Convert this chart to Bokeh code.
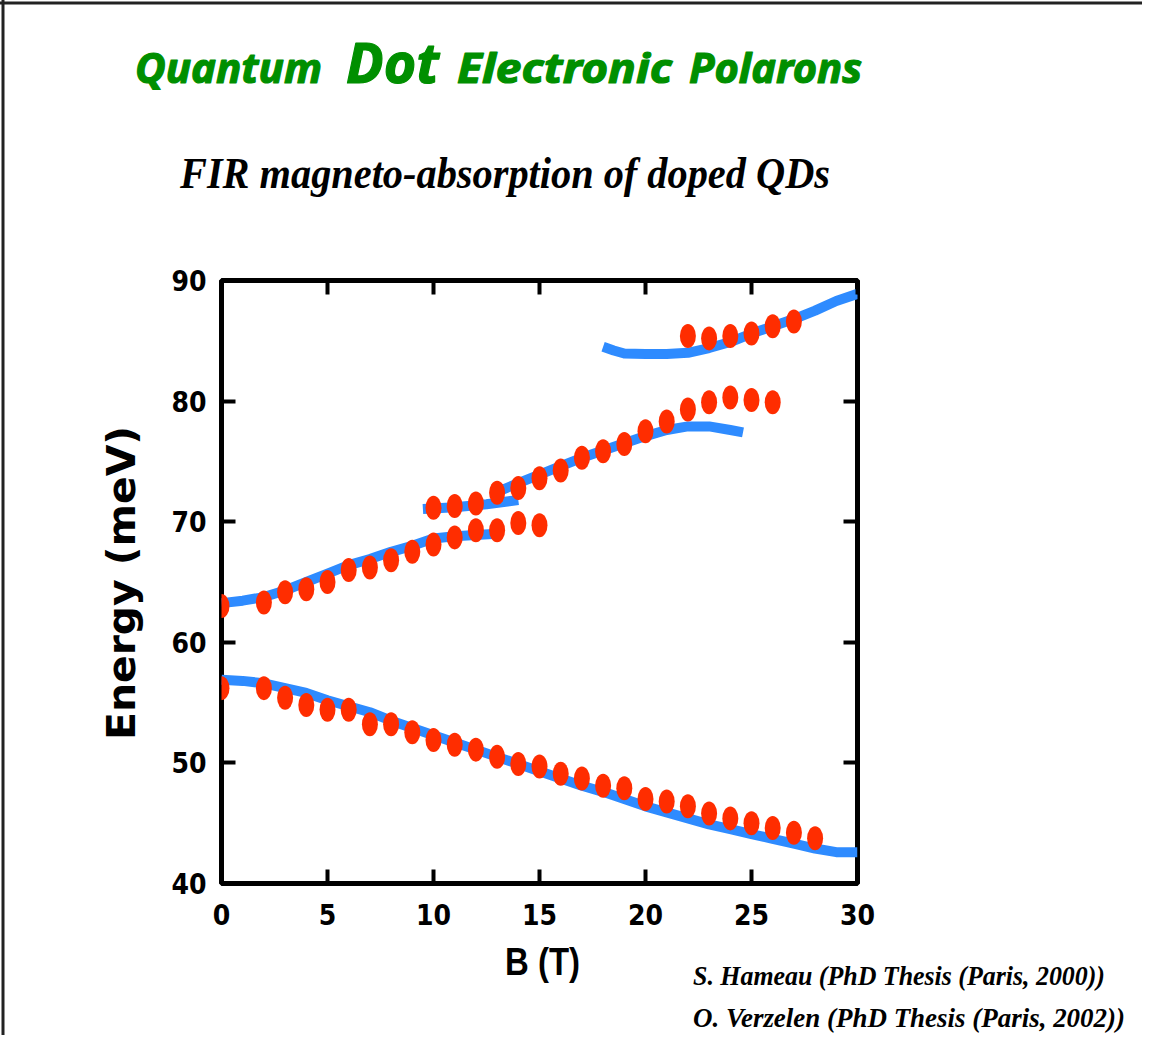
from bokeh.plotting import figure
from bokeh.models import Range1d, LinearAxis, FixedTicker, Div
from bokeh.layouts import column
from bokeh.embed import file_html
from bokeh.resources import INLINE

# ---------------- data ----------------
# theory curves (blue)
curve_low_B = [0, 1, 2, 3, 4, 5, 6, 7, 8, 9, 10, 11, 12, 13, 14, 15, 16, 17, 18, 19,
               20, 21, 22, 23, 24, 25, 26, 27, 28, 29, 30]
curve_low_E = [56.9, 56.8, 56.6, 56.2, 55.8, 55.2, 54.7, 54.2, 53.5, 52.9, 52.3, 51.7,
               51.1, 50.5, 49.9, 49.3, 48.7, 48.1, 47.6, 47.0, 46.4, 45.9, 45.4, 44.9,
               44.5, 44.1, 43.7, 43.3, 42.9, 42.6, 42.6]

curve_mid1_B = [0, 1, 2, 3, 4, 5, 6, 7, 8, 9, 10, 11, 12, 13]
curve_mid1_E = [63.25, 63.45, 63.75, 64.3, 65.0, 65.7, 66.4, 66.9, 67.5, 68.0, 68.6,
                68.8, 68.9, 69.0]

curve_mid2_B = [9.5, 11, 12.5, 14.0]
curve_mid2_E = [71.05, 71.2, 71.45, 71.8]

curve_mid3_B = [12.9, 14, 15, 16, 17, 18, 19, 20, 21, 22, 23, 24, 24.6]
curve_mid3_E = [72.4, 73.2, 73.9, 74.6, 75.3, 75.9, 76.5, 77.1, 77.6, 77.9, 77.9, 77.6, 77.4]

curve_top_B = [18, 18.5, 19, 20, 21, 22, 23, 24, 25, 26, 27, 28, 29, 30]
curve_top_E = [84.5, 84.2, 83.95, 83.9, 83.9, 84.0, 84.4, 84.9, 85.6, 86.2, 86.8, 87.5,
               88.3, 88.9]

# experimental points (red)
exp_low_B = [0, 2, 3, 4, 5, 6, 7, 8, 9, 10, 11, 12, 13, 14, 15, 16, 17, 18, 19, 20,
             21, 22, 23, 24, 25, 26, 27, 28]
exp_low_E = [56.2, 56.2, 55.4, 54.8, 54.4, 54.4, 53.2, 53.2, 52.55, 51.9, 51.5, 51.1,
             50.5, 49.9, 49.7, 49.1, 48.7, 48.1, 47.9, 47.0, 46.8, 46.4, 45.8, 45.4,
             45.0, 44.6, 44.2, 43.75]

exp_mid1_B = [0, 2, 3, 4, 5, 6, 7, 8, 9, 10, 11, 12, 13, 14, 15]
exp_mid1_E = [63.0, 63.3, 64.15, 64.4, 65.0, 66.0, 66.2, 66.8, 67.5, 68.1, 68.7, 69.3,
              69.3, 69.9, 69.7]

exp_mid2_B = [10, 11, 12, 13, 14, 15, 16, 17, 18, 19, 20, 21, 22, 23, 24, 25, 26]
exp_mid2_E = [71.15, 71.3, 71.5, 72.4, 72.8, 73.6, 74.25, 75.3, 75.85, 76.45, 77.5,
              78.3, 79.3, 79.9, 80.3, 80.1, 79.9]

exp_top_B = [22, 23, 24, 25, 26, 27]
exp_top_E = [85.4, 85.2, 85.4, 85.6, 86.2, 86.6]

x_ticks = [0, 5, 10, 15, 20, 25, 30]
y_ticks = [40, 50, 60, 70, 80, 90]

title_words = ["Quantum", "Dot", "Electronic", "Polarons"]
subtitle = "FIR magneto-absorption of doped QDs"
x_label = "B (T)"
y_label = "Energy (meV)"
credits = ["S. Hameau (PhD Thesis (Paris, 2000))",
           "O. Verzelen (PhD Thesis (Paris, 2002))"]

# ---------------- figure ----------------
W, H = 1142, 1035
FL, FT, FR, FB = 221, 280, 857, 883   # frame edges (page pixels)

p = figure(width=W, height=H, output_backend="svg", toolbar_location=None,
           x_range=Range1d(0, 30), y_range=Range1d(40, 90),
           min_border_left=FL, min_border_top=FT,
           min_border_right=W - FR, min_border_bottom=H - FB)
p.xgrid.visible = False
p.ygrid.visible = False
p.background_fill_color = "white"
p.border_fill_color = "white"
p.outline_line_color = "black"
p.outline_line_width = 5

p.add_layout(LinearAxis(), "above")
p.add_layout(LinearAxis(), "right")

TICK_FONT = "DejaVu Sans Condensed"
for ax in p.xaxis:
    ax.ticker = FixedTicker(ticks=x_ticks)
for ax in p.yaxis:
    ax.ticker = FixedTicker(ticks=y_ticks)
for ax in list(p.xaxis) + list(p.yaxis):
    ax.axis_line_color = None
    ax.major_tick_in = 14
    ax.major_tick_out = 0
    ax.major_tick_line_width = 4
    ax.major_tick_line_color = "black"
    ax.minor_tick_line_color = None
    ax.major_label_text_font = TICK_FONT
    ax.major_label_text_font_style = "bold"
    ax.major_label_text_font_size = "28px"
    ax.major_label_text_color = "black"

p.above[0].major_label_text_color = None
p.right[0].major_label_text_color = None
p.below[0].major_label_standoff = 20
p.left[0].major_label_standoff = 15

BLUE = "#2e8bff"
RED = "#ff2d00"

for bx, ey in [(curve_low_B, curve_low_E), (curve_mid1_B, curve_mid1_E),
               (curve_mid2_B, curve_mid2_E), (curve_mid3_B, curve_mid3_E),
               (curve_top_B, curve_top_E)]:
    p.line(bx, ey, line_color=BLUE, line_width=10, line_cap="butt", line_join="round")

for bx, ey in [(exp_low_B, exp_low_E), (exp_mid1_B, exp_mid1_E),
               (exp_mid2_B, exp_mid2_E), (exp_top_B, exp_top_E)]:
    p.ellipse(bx, ey, width=16, height=24, width_units="screen", height_units="screen",
              fill_color=RED, line_color=None)

# ---------------- slide texts (overlay, page pixel coordinates) ----------------
GREEN = "#008f00"
title_x = [135, 346, 457, 689]
title_w = [187, 93, 215, 173]
title_sz = [42, 55, 42, 42]


def style(family, size, weight="bold", italic=False, color="black", stroke=0.0):
    s = f"font-family:'{family}';font-size:{size}px;font-weight:{weight};fill:{color};"
    s += "font-style:italic;" if italic else "font-style:normal;"
    if stroke:
        s += f"stroke:{color};stroke-width:{stroke};stroke-linejoin:round;"
    return s


FIT = 'lengthAdjust="spacingAndGlyphs"'
parts = []
parts.append('<line x1="0" y1="3" x2="1142" y2="3" style="stroke:#222;stroke-width:3"/>')
parts.append('<line x1="3" y1="0" x2="3" y2="1035" style="stroke:#222;stroke-width:3"/>')
for w, x0, tw, sz in zip(title_words, title_x, title_w, title_sz):
    parts.append(f'<text x="{x0}" y="83" textLength="{tw}" {FIT} '
                 f'style="{style("Noto Sans", sz, italic=True, color=GREEN, stroke=1.2)}">{w}</text>')
parts.append(f'<text x="180" y="188" textLength="650" {FIT} '
             f'style="{style("Liberation Serif", 45, italic=True)}">{subtitle}</text>')
parts.append(f'<text transform="translate(135,583) rotate(-90)" x="-157" y="0" '
             f'textLength="314" {FIT} style="{style("DejaVu Sans", 39)}">{y_label}</text>')
parts.append(f'<text x="505" y="975" textLength="75" {FIT} '
             f'style="{style("Liberation Sans", 38)}">{x_label}</text>')
for txt, yb, tw in zip(credits, [985, 1027], [412, 432]):
    parts.append(f'<text x="693" y="{yb}" textLength="{tw}" {FIT} '
                 f'style="{style("Liberation Serif", 28, italic=True)}">{txt}</text>')

svg = (f'<svg xmlns="http://www.w3.org/2000/svg" width="{W}" height="{H}" '
       f'style="display:block;overflow:visible">' + "".join(parts) + '</svg>')

overlay = Div(text=svg, width=W, height=H, margin=(-H, 0, 0, 0))

layout = column(p, overlay, spacing=0)

open("out.html", "w").write(file_html(layout, INLINE))
